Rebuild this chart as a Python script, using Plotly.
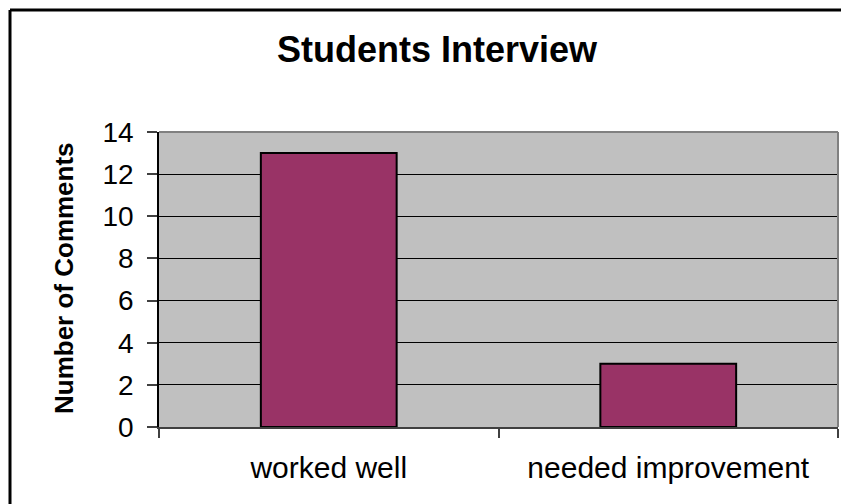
import plotly.graph_objects as go

categories = ["worked well", "needed improvement"]
comments = [13, 3]
y_ticks = [0, 2, 4, 6, 8, 10, 12, 14]

OFF = 8  # browser body margin
W, H = 849 - OFF, 504 - OFF
L, R, T, B = 159 - OFF, 838 - OFF, 132 - OFF, 427 - OFF  # plot area in pixels


def px_x(p):
    return (p - OFF - L) / (R - L)


def px_y(p):
    return (B - (p - OFF)) / (B - T)


fig = go.Figure(
    go.Bar(
        x=categories,
        y=comments,
        marker=dict(color="#993366", line=dict(color="black", width=2)),
        width=0.4,
    )
)

fig.update_layout(
    width=W,
    height=H,
    margin=dict(l=L, r=W - R, t=T, b=H - B, autoexpand=False),
    paper_bgcolor="white",
    plot_bgcolor="#C0C0C0",
    showlegend=False,
    font=dict(family="Liberation Sans, Arial, sans-serif", color="black"),
    xaxis=dict(
        type="category",
        range=[-0.5, 1.5],
        tickson="boundaries",
        ticks="outside",
        ticklen=9,
        tickcolor="#404040",
        tickwidth=1.5,
        showline=True,
        linecolor="#404040",
        linewidth=1.5,
        showgrid=False,
        tickfont=dict(size=30),
        ticklabelstandoff=13,
    ),
    yaxis=dict(
        range=[0, 14],
        tickvals=y_ticks,
        ticks="outside",
        ticklen=10,
        tickcolor="#404040",
        tickwidth=1.5,
        showline=True,
        linecolor="black",
        linewidth=1.5,
        showgrid=True,
        gridcolor="black",
        gridwidth=1,
        zeroline=False,
        tickfont=dict(size=28),
        ticklabelstandoff=8,
    ),
    annotations=[
        dict(
            text="<b>Students Interview</b>",
            x=px_x(437), y=px_y(50),
            xref="paper", yref="paper",
            xanchor="center", yanchor="middle",
            showarrow=False,
            font=dict(size=36),
        ),
        dict(
            text="<b>Number of Comments</b>",
            x=px_x(64), y=px_y(278),
            xref="paper", yref="paper",
            xanchor="center", yanchor="middle",
            textangle=-90,
            showarrow=False,
            font=dict(size=26),
        ),
    ],
    shapes=[
        # plot area top/right border (gray)
        dict(type="line", xref="paper", yref="paper", x0=0, x1=1, y0=1, y1=1,
             line=dict(color="#808080", width=2), layer="above"),
        dict(type="line", xref="paper", yref="paper", x0=1, x1=1, y0=0, y1=1,
             line=dict(color="#808080", width=2), layer="above"),
        # chart outer border (top and left visible)
        dict(type="line", xref="paper", yref="paper",
             x0=px_x(10), x1=px_x(849), y0=px_y(10), y1=px_y(10),
             line=dict(color="black", width=3)),
        dict(type="line", xref="paper", yref="paper",
             x0=px_x(10), x1=px_x(10), y0=px_y(10), y1=px_y(504),
             line=dict(color="black", width=3)),
    ],
)

fig.write_html("out.html")
